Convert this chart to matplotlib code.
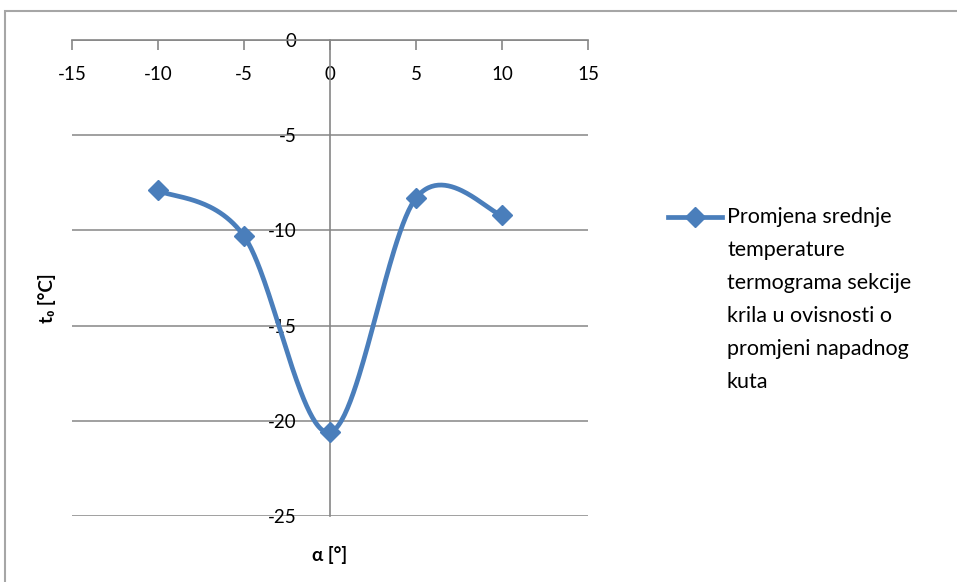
import numpy as np
import matplotlib
matplotlib.use("Agg")
import matplotlib.pyplot as plt
from matplotlib.patches import Rectangle
from matplotlib.lines import Line2D

plt.rcParams['font.family'] = ['Lato', 'DejaVu Sans']

alpha = [-10, -5, 0, 5, 10]
temp = [-7.9, -10.3, -20.6, -8.3, -9.2]
x_ticks = [-15, -10, -5, 0, 5, 10, 15]
y_ticks = [0, -5, -10, -15, -20, -25]
legend_lines = ["Promjena srednje", "temperature", "termograma sekcije",
                "krila u ovisnosti o", "promjeni napadnog", "kuta"]

def catmull_rom(xs, ys, n=60):
    P = np.column_stack([xs, ys]).astype(float)
    Pext = np.vstack([P[0], P, P[-1]])
    out = []
    t = np.linspace(0, 1, n)[:, None]
    for i in range(1, len(Pext) - 2):
        p0, p1, p2, p3 = Pext[i - 1], Pext[i], Pext[i + 1], Pext[i + 2]
        c1 = p1 + (p2 - p0) / 6.0
        c2 = p2 - (p3 - p1) / 6.0
        seg = ((1 - t) ** 3) * p1 + 3 * ((1 - t) ** 2) * t * c1 + 3 * (1 - t) * t ** 2 * c2 + t ** 3 * p2
        out.append(seg if i == 1 else seg[1:])
    A = np.vstack(out)
    return A[:, 0], A[:, 1]

W, H = 957, 582
fig = plt.figure(figsize=(W / 100, H / 100), dpi=100)
fig.patches.append(Rectangle((5 / W, -0.1), 1.2, 1 - 11 / H + 0.1, transform=fig.transFigure,
                             fill=False, edgecolor='#a6a6a6', lw=1.5))

ax = fig.add_axes([72 / W, 66 / H, 516 / W, 476 / H])
gray = '#868686'
blue = '#4A7EBB'

sx, sy = catmull_rom(alpha, temp)
ax.plot(sx, sy, color=blue, lw=3.4, solid_capstyle='round', zorder=3)
ax.plot(alpha, temp, linestyle='none', marker='D', markersize=10.5, color=blue, zorder=4)

ax.set_xlim(-15, 15)
ax.set_ylim(-25, 0)
ax.set_xticks(x_ticks)
ax.set_yticks(y_ticks)
ax.set_xticklabels([str(v) for v in x_ticks])
ax.set_yticklabels([str(v) for v in y_ticks])

for s in ['top', 'right']:
    ax.spines[s].set_visible(False)
ax.spines['bottom'].set_position(('data', 0))
ax.spines['left'].set_position(('data', 0))
for s in ['bottom', 'left']:
    ax.spines[s].set_color(gray)
    ax.spines[s].set_linewidth(1.2)

ax.yaxis.grid(True, color=gray, lw=1.1)
ax.set_axisbelow(True)
ax.tick_params(axis='x', direction='out', length=7, color=gray, width=1.2, labelsize=13.5, pad=12)
ax.tick_params(axis='y', direction='out', length=0, color=gray, labelsize=13.5, pad=24)

fig.text(330 / W, 1 - 555 / H, "α [°]", ha='center', va='center', fontsize=13.5, fontweight='bold')
fig.text(47 / W, 1 - 298 / H, "t₀ [°C]", ha='center', va='center', fontsize=13.5, fontweight='bold', rotation=90)

# legend (manual, Excel style: handle aligned with first line)
y0 = 1 - 217 / H
fig.add_artist(Line2D([668 / W, 695 / W, 722 / W], [y0, y0, y0], transform=fig.transFigure,
                      color=blue, lw=3.4, marker='D', markersize=10, markevery=[1]))
for i, line in enumerate(legend_lines):
    fig.text(727 / W, 1 - (217 + 33 * i) / H, line, ha='left', va='center', fontsize=15.5)

fig.savefig("out.png", dpi=100)
